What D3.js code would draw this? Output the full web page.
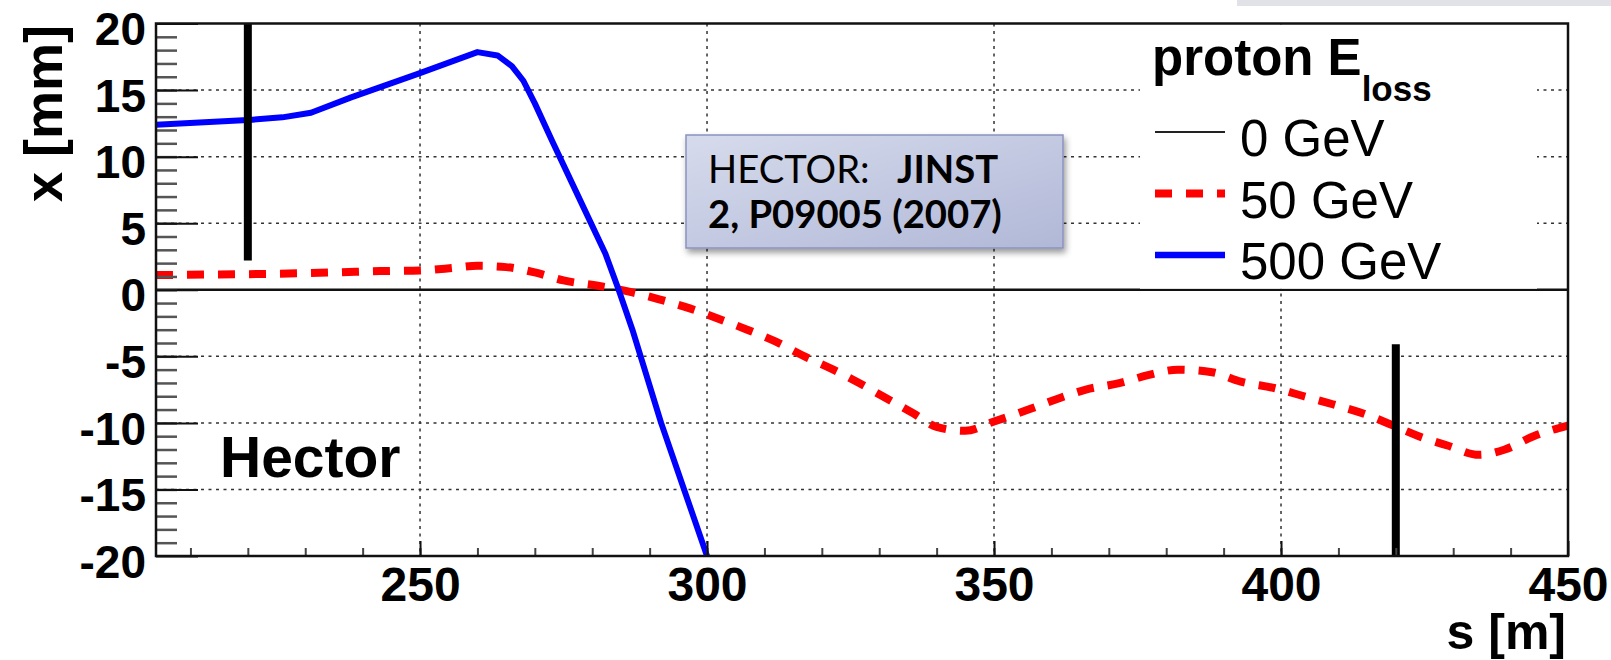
<!DOCTYPE html>
<html>
<head>
<meta charset="utf-8">
<script src="https://cdn.jsdelivr.net/npm/d3@7"></script>
<style>
  body { margin: 0; background: #fff; }
  svg { display: block; font-family: "Liberation Sans", Arial, sans-serif; }
</style>
</head>
<body>
<div id="chart"></div>
<script>
// 0 GeV: reference orbit
const sRef = [204, 450];
const xRef = [0, 0];

// 50 GeV energy loss
const s50 = [204, 215, 225, 235, 243, 250, 256, 260, 265, 270, 275, 281, 287, 291.5, 297, 304, 307, 312, 316.5, 322,
  326.5, 331, 336, 340, 345, 350, 356, 361, 366, 372, 377, 382, 388, 393, 399, 404, 409, 415, 419, 424, 429, 434.5,
  439, 444, 450];
const x50 = [1.1, 1.15, 1.2, 1.3, 1.4, 1.45, 1.65, 1.8, 1.7, 1.3, 0.7, 0.3, -0.2, -0.7, -1.4, -2.5, -3.0, -3.9, -4.9, -6.0,
  -7.0, -8.1, -9.3, -10.3, -10.6, -9.9, -9.0, -8.2, -7.5, -7.0, -6.4, -6.0, -6.2, -6.9, -7.4, -8.0, -8.6, -9.4, -10.1,
  -11.0, -11.7, -12.4, -12.0, -11.0, -10.2];

// 500 GeV energy loss
const s500 = [204, 220, 226, 231, 238, 249.5, 260, 263.5, 266, 268, 270, 273, 277.7, 282.3, 284.6, 287, 292, 296, 300];
const x500 = [12.4, 12.75, 12.95, 13.3, 14.45, 16.2, 17.85, 17.6, 16.8, 15.7, 14.0, 11.2, 6.9, 2.7, 0, -3, -10, -15, -20];

// detector stations (thick black bars)
const stationS = [220, 420];
const stationFrom = [2.2, -20];
const stationTo = [20, -4.1];

const xTicks = [250, 300, 350, 400, 450];
const yTicks = [-20, -15, -10, -5, 0, 5, 10, 15, 20];
const legendLabels = ["0 GeV", "50 GeV", "500 GeV"];

const width = 1611, height = 660;
const mLeft = 156, mRight = 1568, mTop = 23.5, mBottom = 556;

const x = d3.scaleLinear().domain([204, 450]).range([mLeft, mRight]);
const y = d3.scaleLinear().domain([-20, 20]).range([mBottom, mTop]);

const svg = d3.select("#chart").append("svg")
    .attr("width", width)
    .attr("height", height);

const defs = svg.append("defs");
defs.append("clipPath").attr("id", "plot")
  .append("rect")
    .attr("x", mLeft).attr("y", mTop)
    .attr("width", mRight - mLeft).attr("height", mBottom - mTop);

const grad = defs.append("linearGradient").attr("id", "boxfill")
    .attr("x1", 0).attr("y1", 0).attr("x2", 1).attr("y2", 1);
grad.append("stop").attr("offset", "0%").attr("stop-color", "#d6dbec");
grad.append("stop").attr("offset", "100%").attr("stop-color", "#b1b8d7");

defs.append("filter").attr("id", "shadow")
    .attr("x", "-10%").attr("y", "-10%").attr("width", "130%").attr("height", "140%")
  .append("feDropShadow")
    .attr("dx", 2).attr("dy", 4).attr("stdDeviation", 3)
    .attr("flood-color", "#000").attr("flood-opacity", 0.4);

svg.append("rect").attr("width", width).attr("height", height).attr("fill", "#fff");

// grey strip top right
svg.append("rect")
    .attr("x", 1237).attr("y", 0).attr("width", width - 1237).attr("height", 6)
    .attr("fill", "#e1e1e8");

// dotted grid
const grid = svg.append("g")
    .attr("stroke", "#333")
    .attr("stroke-width", 1.5)
    .attr("stroke-dasharray", "3,4.5");
grid.selectAll(".gx").data(xTicks.slice(0, -1)).join("line")
    .attr("x1", d => x(d)).attr("x2", d => x(d))
    .attr("y1", mTop).attr("y2", mBottom);
grid.selectAll(".gy").data(yTicks.filter(d => d !== 0 && Math.abs(d) !== 20)).join("line")
    .attr("x1", mLeft).attr("x2", mRight)
    .attr("y1", d => y(d)).attr("y2", d => y(d));

// curves
const line = d3.line().x(d => x(d[0])).y(d => y(d[1]));
const curves = svg.append("g").attr("clip-path", "url(#plot)").attr("fill", "none");

curves.append("path")
    .datum(d3.zip(sRef, xRef))
    .attr("stroke", "#111")
    .attr("stroke-width", 2.5)
    .attr("d", line);

curves.append("path")
    .datum(d3.zip(s50, x50))
    .attr("stroke", "#ff0000")
    .attr("stroke-width", 8)
    .attr("stroke-dasharray", "17,14")
    .attr("d", line.curve(d3.curveMonotoneX));

curves.append("path")
    .datum(d3.zip(s500, x500))
    .attr("stroke", "#0000ff")
    .attr("stroke-width", 6)
    .attr("stroke-linejoin", "round")
    .attr("d", line.curve(d3.curveLinear));

// stations
svg.append("g").selectAll("line")
  .data(stationS)
  .join("line")
    .attr("x1", d => x(d)).attr("x2", d => x(d))
    .attr("y1", (d, i) => y(stationFrom[i]))
    .attr("y2", (d, i) => y(stationTo[i]))
    .attr("stroke", "#000")
    .attr("stroke-width", 8);

// legend
svg.append("rect")
    .attr("x", 1140).attr("y", mTop + 1).attr("width", 397).attr("height", y(0) - mTop - 2)
    .attr("fill", "#fff");

const title = svg.append("text")
    .attr("x", 1152).attr("y", 75)
    .attr("font-weight", "bold")
    .attr("font-size", 51)
    .text("proton E");
title.append("tspan")
    .attr("dy", 26)
    .attr("font-size", 35)
    .text("loss");

const legendStyle = [
  {stroke: "#222", width: 2, dash: null},
  {stroke: "#ff0000", width: 8, dash: "17,14"},
  {stroke: "#0000ff", width: 6.5, dash: null}
];
const legend = svg.append("g").selectAll("g")
  .data(legendLabels)
  .join("g")
    .attr("transform", (d, i) => `translate(0,${156 + i * 61.5})`);
legend.append("line")
    .attr("x1", 1155).attr("x2", 1225)
    .attr("y1", -24).attr("y2", -24)
    .attr("stroke", (d, i) => legendStyle[i].stroke)
    .attr("stroke-width", (d, i) => legendStyle[i].width)
    .attr("stroke-dasharray", (d, i) => legendStyle[i].dash);
legend.append("text")
    .attr("x", 1240)
    .attr("font-size", 51)
    .text(d => d);

// axes: major and minor ticks drawn inwards
const xMajor = d3.axisBottom(x).tickValues(xTicks).tickSize(-15).tickPadding(11).tickFormat(d => `${d}`);
const xMinor = d3.axisBottom(x).tickValues(d3.range(210, 450, 10)).tickSize(-8).tickFormat("");
const yMajor = d3.axisLeft(y).tickValues(yTicks).tickSize(-42).tickPadding(10).tickFormat(d => `${d}`);
const yMinor = d3.axisLeft(y).tickValues(d3.range(-19, 20, 1)).tickSize(-21).tickFormat("");

svg.append("g").attr("transform", `translate(0,${mBottom})`).call(xMinor)
    .call(g => g.select(".domain").remove())
    .call(g => g.selectAll(".tick line").attr("stroke", "#444").attr("stroke-width", 2));
svg.append("g").attr("transform", `translate(0,${mBottom})`).call(xMajor)
    .call(g => g.select(".domain").remove())
    .call(g => g.selectAll(".tick line").attr("stroke", "#111").attr("stroke-width", 2))
    .call(g => g.selectAll(".tick text")
        .attr("fill", "#000")
        .attr("font-family", "Liberation Sans, Arial, sans-serif")
        .attr("font-weight", "bold")
        .attr("font-size", 48));

svg.append("g").attr("transform", `translate(${mLeft},0)`).call(yMinor)
    .call(g => g.select(".domain").remove())
    .call(g => g.selectAll(".tick line").attr("stroke", "#555").attr("stroke-width", 2.5));
svg.append("g").attr("transform", `translate(${mLeft},0)`).call(yMajor)
    .call(g => g.select(".domain").remove())
    .call(g => g.selectAll(".tick line").attr("stroke", "#111").attr("stroke-width", 2))
    .call(g => g.selectAll(".tick text")
        .attr("fill", "#000")
        .attr("dy", "0.46em")
        .attr("font-family", "Liberation Sans, Arial, sans-serif")
        .attr("font-weight", "bold")
        .attr("font-size", 46));

// frame
svg.append("rect")
    .attr("x", mLeft).attr("y", mTop)
    .attr("width", mRight - mLeft).attr("height", mBottom - mTop)
    .attr("fill", "none")
    .attr("stroke", "#111")
    .attr("stroke-width", 2.5);

// axis titles
svg.append("text")
    .attr("transform", `translate(62,25) rotate(-90)`)
    .attr("text-anchor", "end")
    .attr("font-weight", "bold")
    .attr("font-size", 54)
    .text("x [mm]");

svg.append("text")
    .attr("x", 1566).attr("y", 649)
    .attr("text-anchor", "end")
    .attr("font-weight", "bold")
    .attr("font-size", 50)
    .text("s [m]");

svg.append("text")
    .attr("x", 220).attr("y", 477)
    .attr("font-weight", "bold")
    .attr("font-size", 57)
    .text("Hector");

// reference box
const box = svg.append("g");
box.append("rect")
    .attr("x", 686).attr("y", 135).attr("width", 377).attr("height", 113)
    .attr("fill", "url(#boxfill)")
    .attr("stroke", "#8a93bf")
    .attr("stroke-width", 1.5)
    .attr("filter", "url(#shadow)");

const boxFont = "Lato, 'Open Sans', sans-serif";
// size the box text so the second line spans the same width as in the original
const line2 = box.append("text")
    .attr("x", 708).attr("y", 228)
    .attr("font-family", boxFont).attr("font-weight", "bold").attr("font-size", 36)
    .text("2, P09005 (2007)");
const boxSize = 36 * 294 / line2.node().getComputedTextLength();
line2.attr("font-size", boxSize);

box.append("text")
    .attr("x", 708).attr("y", 183)
    .attr("font-family", boxFont).attr("font-size", boxSize)
    .text("HECTOR:");
box.append("text")
    .attr("x", 897).attr("y", 183)
    .attr("font-family", boxFont).attr("font-weight", "bold").attr("font-size", boxSize)
    .text("JINST");
</script>
</body>
</html>
